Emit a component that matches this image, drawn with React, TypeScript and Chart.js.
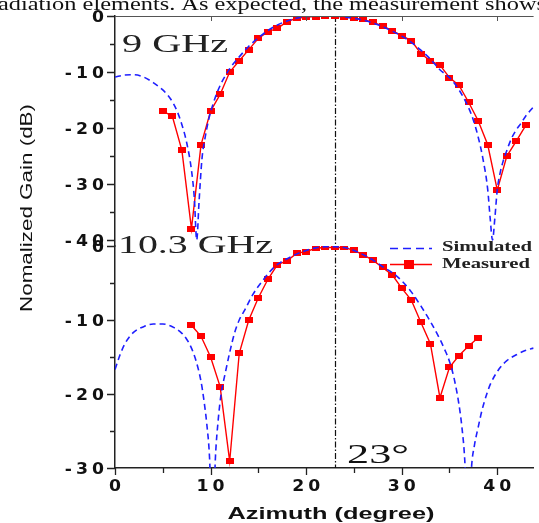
import React, { useEffect, useRef } from 'react';
import { Chart, registerables } from 'chart.js';

Chart.register(...registerables);

// ---------- axes ----------
const X_MIN = 0;
const X_MAX = 43.8;
const X_MAJOR = [0, 10, 20, 30, 40];
const X_MINOR = [5, 15, 25, 35];
const X_TOP_TICKS = [10, 20, 30, 40];
const Y_TOP_MIN = -41.07;
const Y_TOP_MAJOR = [0, -10, -20, -30, -40];
const Y_TOP_MINOR = [-5, -15, -25, -35];
const Y_BOT_MIN = -30;
const Y_BOT_MAJOR = [0, -10, -20, -30];
const Y_BOT_MINOR = [-5, -15, -25];
const MARKER_ANGLE = 23;

// ---------- 9 GHz ----------
const SIM9_X = [0, 1, 2, 3, 4, 5, 5.5, 6, 6.5, 7, 7.5, 8, 8.3, 8.55, 8.8, 9.1, 9.4, 9.8, 10.3, 11, 11.5, 12, 13, 14, 15, 16, 17, 18, 19, 20, 21, 22, 23, 24, 25, 26, 27, 28, 29, 30, 31, 32, 33, 34, 35, 36, 37, 37.5, 38, 38.5, 39, 39.25, 39.5, 39.75, 40, 40.3, 40.6, 41, 41.5, 42, 42.5, 43, 43.5, 43.8];
const SIM9_Y = [-10.9, -10.55, -10.5, -10.9, -11.9, -13.2, -14.1, -15.3, -17.0, -19.4, -22.6, -27.5, -32.5, -40, -33, -25.5, -22, -18.5, -15.5, -12.4, -10.8, -9.4, -7.3, -5.4, -3.9, -2.6, -1.6, -0.9, -0.4, -0.1, 0, 0, 0, -0.15, -0.4, -0.75, -1.25, -1.9, -2.7, -3.6, -4.7, -6.1, -7.7, -9.6, -11.0, -13.2, -16.4, -18.6, -21.6, -25.5, -31, -36, -40, -36, -31, -28, -26, -24, -21.8, -20.3, -19.1, -17.8, -16.8, -16.2];
const MEAS9_X = [5, 6, 7, 8, 9, 10, 11, 12, 13, 14, 15, 16, 17, 18, 19, 20, 21, 22, 23, 24, 25, 26, 27, 28, 29, 30, 31, 32, 33, 34, 35, 36, 37, 38, 39, 40, 41, 42, 43];
const MEAS9_Y = [-17, -17.9, -24, -38, -23, -17, -14, -10, -8, -6, -4, -2.8, -2.2, -1.0, -0.4, -0.2, -0.1, 0, 0, -0.2, -0.4, -0.6, -1.15, -1.75, -2.6, -3.5, -4.4, -6.7, -8.0, -8.75, -11, -12.4, -15.4, -18.7, -23, -31.1, -25, -22.3, -19.5];

// ---------- 10.3 GHz ----------
const SIM10_X = [0, 0.5, 1, 1.5, 2, 3, 4, 5, 6, 7, 7.5, 8, 8.5, 9, 9.3, 9.6, 9.9, 10.2, 10.5, 10.8, 11.1, 11.5, 12, 12.5, 13, 13.6, 14.4, 15.5, 16.7, 17.9, 19, 20, 21, 22, 23, 24, 25, 26, 27, 28, 29, 30, 31, 32, 33, 34, 34.5, 35, 35.5, 36, 36.3, 36.6, 36.95, 37.3, 37.6, 38, 38.4, 38.9, 39.3, 40.2, 41, 42, 43, 43.8];
const SIM10_Y = [-16.7, -14.8, -13.3, -12.3, -11.6, -10.9, -10.55, -10.55, -10.9, -11.8, -12.6, -13.8, -15.6, -18.3, -20.8, -24, -28.8, -40, -28.8, -23.5, -20, -17.4, -14.4, -11.8, -10.0, -8.6, -6.6, -4.6, -2.8, -1.8, -1.1, -0.6, -0.25, -0.1, -0.1, -0.2, -0.6, -1.2, -1.9, -2.8, -3.6, -4.7, -6.2, -8.1, -10.2, -12.6, -14.0, -15.6, -18.0, -21.5, -24.5, -29, -40, -30, -27, -24.5, -22.2, -20.0, -18.6, -16.6, -15.5, -14.7, -14.1, -13.8];
const MEAS10_X = [8, 9, 10, 11, 12, 13, 14, 15, 16, 17, 18, 19, 20, 21, 22, 23, 24, 25, 26, 27, 28, 29, 30, 31, 32, 33, 34, 35, 36, 37, 38];
const MEAS10_Y = [-10.7, -12.2, -15, -19, -29.1, -14.5, -10, -7, -4.5, -2.5, -2.0, -1.0, -0.75, -0.3, -0.2, -0.2, -0.2, -0.6, -1.2, -1.95, -2.9, -3.9, -5.7, -7.3, -10.3, -13.2, -20.5, -16.4, -14.8, -13.5, -12.4];

// ---------- texts ----------
const TOP_TEXT = 'adiation elements. As expected, the measurement shows';
const LABEL_9 = '9 GHz';
const LABEL_10 = '10.3 GHz';
const LABEL_ANGLE = '23\u00B0';
const X_TITLE = 'Azimuth (degree)';
const Y_TITLE = 'Nomalized Gain (dB)';
const LEGEND_SIM = 'Simulated';
const LEGEND_MEAS = 'Measured';

const BLUE = '#1f1fff';
const RED = '#ff0000';

function pts(xs: number[], ys: number[]) {
  return xs.map((x, i) => ({ x, y: ys[i] }));
}

function fitText(ctx: CanvasRenderingContext2D, text: string, x: number, y: number, font: string, width: number, align: 'left' | 'center' | 'right', color: string) {
  ctx.save();
  ctx.font = font;
  ctx.fillStyle = color;
  ctx.textAlign = 'left';
  ctx.textBaseline = 'alphabetic';
  const w = ctx.measureText(text).width;
  const sx = width / w;
  const x0 = align === 'left' ? x : align === 'center' ? x - width / 2 : x - width;
  ctx.translate(x0, y);
  ctx.scale(sx, 1);
  ctx.fillText(text, 0, 0);
  ctx.restore();
}

function stretchText(ctx: CanvasRenderingContext2D, text: string, x: number, y: number, font: string, sx: number, ls: number, align: 'left' | 'center' | 'right', color: string) {
  ctx.save();
  ctx.font = font;
  (ctx as any).letterSpacing = ls + 'px';
  ctx.fillStyle = color;
  ctx.textAlign = 'left';
  ctx.textBaseline = 'alphabetic';
  const w = (ctx.measureText(text).width - ls) * sx;
  const x0 = align === 'left' ? x : align === 'center' ? x - w / 2 : x - w;
  ctx.translate(x0, y);
  ctx.scale(sx, 1);
  ctx.fillText(text, 0, 0);
  ctx.restore();
}

const decor = {
  id: 'decor',
  beforeDatasetsDraw(chart: any) {
    const { ctx, chartArea } = chart;
    const xs = chart.scales.x;
    const px = Math.round(xs.getPixelForValue(MARKER_ANGLE)) + 0.5;
    ctx.save();
    ctx.strokeStyle = '#111';
    ctx.lineWidth = 1.2;
    ctx.setLineDash([6, 2, 1.5, 2]);
    ctx.beginPath();
    ctx.moveTo(px, chartArea.top);
    ctx.lineTo(px, chartArea.bottom);
    ctx.stroke();
    ctx.restore();
  },
  afterDraw(chart: any) {
    const { ctx, chartArea } = chart;
    const xs = chart.scales.x;
    const yt = chart.scales.yTop;
    const yb = chart.scales.yBot;
    const left = chartArea.left;
    ctx.save();
    // top border with inward ticks
    ctx.strokeStyle = '#555';
    ctx.lineWidth = 1;
    ctx.beginPath();
    ctx.moveTo(left, chartArea.top + 0.5);
    ctx.lineTo(chartArea.right, chartArea.top + 0.5);
    for (const v of X_TOP_TICKS) {
      const p = Math.round(xs.getPixelForValue(v)) + 0.5;
      ctx.moveTo(p, chartArea.top);
      ctx.lineTo(p, chartArea.top + 5);
    }
    ctx.stroke();
    // tick marks
    ctx.strokeStyle = '#222';
    ctx.lineWidth = 1.3;
    ctx.beginPath();
    const yTick = (s: any, v: number, len: number) => {
      const p = Math.round(s.getPixelForValue(v)) + 0.5;
      ctx.moveTo(left - len, p);
      ctx.lineTo(left, p);
    };
    Y_TOP_MAJOR.forEach(v => yTick(yt, v, 8));
    Y_TOP_MINOR.forEach(v => yTick(yt, v, 5));
    Y_BOT_MAJOR.forEach(v => yTick(yb, v, 8));
    Y_BOT_MINOR.forEach(v => yTick(yb, v, 5));
    const xTick = (v: number, len: number) => {
      const p = Math.round(xs.getPixelForValue(v)) + 0.5;
      ctx.moveTo(p, chartArea.bottom);
      ctx.lineTo(p, chartArea.bottom + len);
    };
    X_MAJOR.forEach(v => xTick(v, 7));
    X_MINOR.forEach(v => xTick(v, 5));
    ctx.stroke();
    ctx.restore();

    const tickFont = 'bold 15px "DejaVu Sans", "Liberation Sans", sans-serif';
    const tcol = '#111';
    Y_TOP_MAJOR.forEach(v => stretchText(ctx, String(v), 104, yt.getPixelForValue(v) + 5.5, tickFont, 1.15, 3.5, 'right', tcol));
    Y_BOT_MAJOR.forEach(v => stretchText(ctx, String(v), 104, yb.getPixelForValue(v) + 5.5, tickFont, 1.15, 3.5, 'right', tcol));
    X_MAJOR.forEach(v => stretchText(ctx, String(v), xs.getPixelForValue(v), 491, tickFont, 1.15, 3.5, 'center', tcol));

    // axis titles
    fitText(ctx, X_TITLE, 331, 519, 'bold 16px "Liberation Sans", Arial, sans-serif', 207, 'center', '#111');
    ctx.save();
    ctx.translate(32, 208);
    ctx.rotate(-Math.PI / 2);
    fitText(ctx, Y_TITLE, 0, 0, '16px "Liberation Sans", Arial, sans-serif', 208, 'center', '#111');
    ctx.restore();

    // panel annotations
    const serif = '"Liberation Serif", "Times New Roman", serif';
    fitText(ctx, LABEL_9, 122, 52, '26px ' + serif, 106, 'left', '#222');
    fitText(ctx, LABEL_10, 118, 253, '26px ' + serif, 155, 'left', '#222');
    fitText(ctx, LABEL_ANGLE, 347, 463, '28px ' + serif, 62, 'left', '#111');

    // legend
    ctx.save();
    ctx.strokeStyle = BLUE;
    ctx.lineWidth = 1.5;
    ctx.setLineDash([8, 5]);
    ctx.beginPath();
    ctx.moveTo(390, 248.5);
    ctx.lineTo(432, 248.5);
    ctx.stroke();
    ctx.setLineDash([]);
    ctx.strokeStyle = RED;
    ctx.beginPath();
    ctx.moveTo(390, 264.5);
    ctx.lineTo(432, 264.5);
    ctx.stroke();
    ctx.fillStyle = RED;
    ctx.fillRect(404, 260, 10, 9);
    ctx.restore();
    fitText(ctx, LEGEND_SIM, 442, 251, 'bold 14px ' + serif, 90, 'left', '#222');
    fitText(ctx, LEGEND_MEAS, 442, 268, 'bold 14px ' + serif, 88, 'left', '#222');

    // cut-off document text at the top
    fitText(ctx, TOP_TEXT, -2, 10, '19px ' + serif, 548, 'left', '#111');
  },
};

export default function App() {
  const ref = useRef<HTMLCanvasElement | null>(null);
  useEffect(() => {
    const canvas = ref.current;
    if (!canvas) return;
    const mk = document.createElement('canvas');
    mk.width = 8;
    mk.height = 6;
    const mctx = mk.getContext('2d')!;
    mctx.fillStyle = RED;
    mctx.fillRect(0, 0, 8, 6);

    const simStyle = {
      borderColor: BLUE,
      borderWidth: 1.6,
      borderDash: [6, 4],
      pointRadius: 0,
      cubicInterpolationMode: 'monotone' as const,
      fill: false,
    };
    const measStyle = {
      borderColor: RED,
      backgroundColor: RED,
      borderWidth: 1.4,
      pointStyle: mk,
      pointRadius: 4,
      tension: 0,
      fill: false,
    };
    const chart = new Chart(canvas, {
      type: 'line',
      data: {
        datasets: [
          { label: 'Simulated 9 GHz', data: pts(SIM9_X, SIM9_Y), xAxisID: 'x', yAxisID: 'yTop', ...simStyle },
          { label: 'Measured 9 GHz', data: pts(MEAS9_X, MEAS9_Y), xAxisID: 'x', yAxisID: 'yTop', ...measStyle },
          { label: 'Simulated 10.3 GHz', data: pts(SIM10_X, SIM10_Y), xAxisID: 'x', yAxisID: 'yBot', ...simStyle },
          { label: 'Measured 10.3 GHz', data: pts(MEAS10_X, MEAS10_Y), xAxisID: 'x', yAxisID: 'yBot', ...measStyle },
        ] as any,
      },
      options: {
        animation: false,
        responsive: false,
        devicePixelRatio: 1,
        events: [],
        layout: { padding: { top: 16, left: 0, right: 0, bottom: 0 } },
        plugins: { legend: { display: false }, tooltip: { enabled: false } },
        scales: {
          x: {
            type: 'linear',
            position: 'bottom',
            min: X_MIN,
            max: X_MAX,
            grid: { display: false },
            border: { display: true, color: '#222', width: 1.5 },
            ticks: { display: false },
            afterFit: (s: any) => { s.height = 55; },
          },
          yBot: {
            type: 'linear',
            position: 'left',
            stack: 'panels',
            stackWeight: 222,
            weight: 0,
            min: Y_BOT_MIN,
            max: 0,
            grid: { display: false },
            border: { display: true, color: '#222', width: 1.5 },
            ticks: { display: false },
            afterFit: (s: any) => { s.width = 115; },
          },
          yTop: {
            type: 'linear',
            position: 'left',
            stack: 'panels',
            stackWeight: 230,
            weight: 1,
            min: Y_TOP_MIN,
            max: 0,
            grid: { display: false },
            border: { display: true, color: '#222', width: 1.5 },
            ticks: { display: false },
            afterFit: (s: any) => { s.width = 115; },
          },
        } as any,
      },
      plugins: [decor],
    });
    return () => chart.destroy();
  }, []);
  return (
    <div style={{ position: 'fixed', left: 0, top: 0, width: 539, height: 523, background: '#fff' }}>
      <canvas ref={ref} width={539} height={523} style={{ display: 'block', width: 539, height: 523 }} />
    </div>
  );
}
